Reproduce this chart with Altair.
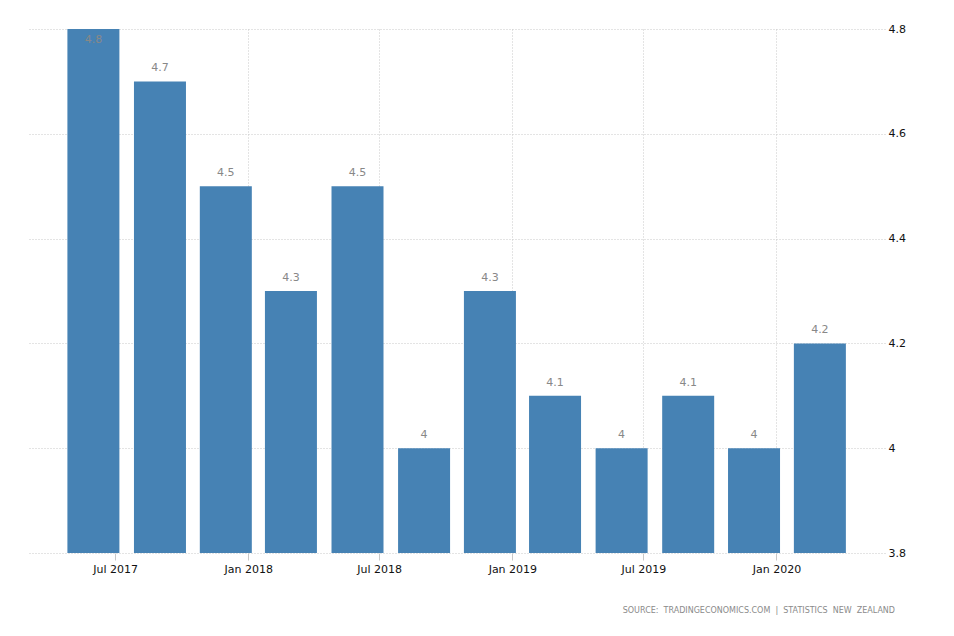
import altair as alt
import pandas as pd

dates = ["2017-06-01", "2017-09-01", "2017-12-01", "2018-03-01", "2018-06-01", "2018-09-01",
         "2018-12-01", "2019-03-01", "2019-06-01", "2019-09-01", "2019-12-01", "2020-03-01"]
values = [4.8, 4.7, 4.5, 4.3, 4.5, 4.0, 4.3, 4.1, 4.0, 4.1, 4.0, 4.2]
labels = ["4.8", "4.7", "4.5", "4.3", "4.5", "4", "4.3", "4.1", "4", "4.1", "4", "4.2"]
y_ticks = [3.8, 4.0, 4.2, 4.4, 4.6, 4.8]
source_text = "SOURCE:\u00a0\u00a0TRADINGECONOMICS.COM\u00a0\u00a0|\u00a0\u00a0STATISTICS\u00a0\u00a0NEW\u00a0\u00a0ZEALAND"

df = pd.DataFrame({"date": dates, "value": values, "label": labels})

FONT = "DejaVu Sans"

x_ticks = [alt.DateTime(year=y, month=m, date=1, utc=True)
           for y, m in [(2017, 7), (2018, 1), (2018, 7), (2019, 1), (2019, 7), (2020, 1)]]

x_enc = alt.X(
    "date:T",
    scale=alt.Scale(type="utc", padding=0,
                    domain=[alt.DateTime(year=2017, month=3, date=4, utc=True),
                            alt.DateTime(year=2020, month=5, date=30, utc=True)]),
    axis=alt.Axis(values=x_ticks, format="%b %Y", title=None, domain=False,
                  ticks=True, tickSize=7, tickColor="#c8c8c8",
                  grid=True, gridColor="#c8c8c8", gridDash=[1, 2],
                  labelFont=FONT, labelFontSize=11, labelColor="#111111",
                  labelPadding=3),
)
y_scale = alt.Scale(domain=[3.8, 4.8], zero=False, nice=False)
y_axis = alt.Axis(orient="right", values=y_ticks, format=".2~f", title=None, domain=False, ticks=False,
                  grid=True, gridColor="#c8c8c8", gridDash=[1, 2],
                  labelFont=FONT, labelFontSize=11, labelColor="#111111",
                  labelPadding=3, labelFlush=False)

base = alt.Chart(df)

bars = base.mark_bar(size=52, color="#4682b4").encode(
    x=x_enc,
    y=alt.Y("value:Q", scale=y_scale, axis=y_axis),
    y2=alt.datum(3.8),
)

text = base.transform_calculate(
    ly="min(datum.value + 0.025, 4.779)"
).mark_text(font=FONT, fontSize=11, color="#888888", baseline="middle").encode(
    x=alt.X("date:T"),
    y=alt.Y("ly:Q"),
    text="label:N",
)

footer = alt.Chart(pd.DataFrame({"t": [source_text]})).mark_text(
    font=FONT, fontSize=8, color="#8a8a8a", align="right", baseline="middle"
).encode(text="t:N", x=alt.value(866), y=alt.value(582))

chart = alt.layer(bars, text, footer).properties(
    width=856, height=524,
    autosize=alt.AutoSizeParams(type="none"),
    padding={"left": 21, "top": 21, "right": 60, "bottom": 75},
).configure_view(stroke=None)

chart.save("out.html", embed_options={"renderer": "svg", "actions": False})
